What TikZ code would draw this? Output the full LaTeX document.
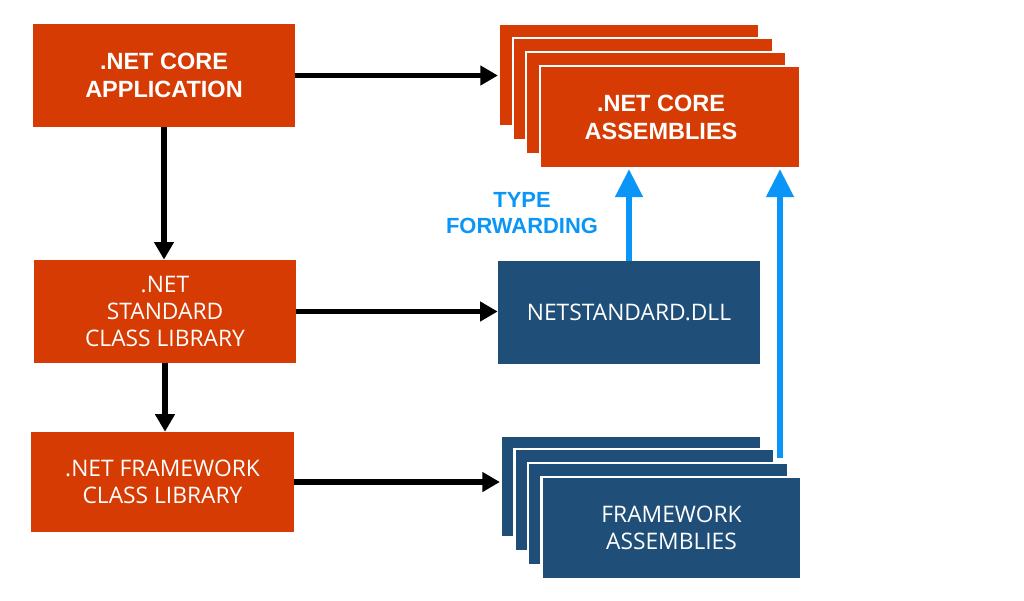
\documentclass[tikz,border=0pt]{standalone}
\usepackage{fontspec}
\setmainfont{Open Sans}
\newfontfamily\headfont{Liberation Sans}
\usetikzlibrary{arrows.meta}
\definecolor{netorange}{HTML}{D53B03}
\definecolor{netblue}{HTML}{1F4E79}
\definecolor{fwdblue}{HTML}{0A96F8}

\begin{document}
\begin{tikzpicture}[x=0.025cm, y=-0.025cm,
    box/.style={fill=#1, text=white, inner sep=0pt, minimum width=6.55cm, minimum height=2.58cm, align=center, font=\fontsize{16.2}{19}\selectfont},
    boldbox/.style={box=#1, font=\headfont\bfseries\fontsize{16.7}{20}\selectfont},
    layer/.style={draw=white, line width=1.5pt, minimum width=6.5cm, minimum height=2.55cm},
    link/.style={-{Triangle[width=13.5pt,length=12.5pt]}, line width=3.6pt},
    fwd/.style={-{Triangle[width=19pt,length=20pt]}, line width=4.2pt, draw=fwdblue}]
    \useasboundingbox (0,0) rectangle (1024,600);

    \node[boldbox=netorange] (app) at (164,75.5) {.NET CORE\\APPLICATION};
    \node[box=netorange] (std) at (165,311.5) {.NET\\STANDARD\\CLASS LIBRARY};
    \node[box=netorange, minimum height=2.5cm] (fw) at (162.5,482) {.NET FRAMEWORK\\CLASS LIBRARY};
    \node[box=netblue] (dll) at (629,312.5) {NETSTANDARD.DLL};

    % stacked assemblies
    \foreach \i in {0,1,2}
        \node[boldbox=netorange, layer] (core\i) at (629+13.7*\i, 75+14*\i) {};
    \node[boldbox=netorange, layer] (core) at (670,117) {.NET CORE\hspace*{0.45cm}\\ASSEMBLIES\hspace*{0.45cm}};
    \foreach \i in {0,1,2}
        \node[box=netblue, layer] (fwa\i) at (631+13.5*\i, 486.5+13.8*\i) {};
    \node[box=netblue, layer] (fwa) at (671.5,528) {FRAMEWORK\\ASSEMBLIES};

    \node[text=fwdblue, font=\headfont\bfseries\fontsize{15.6}{18}\selectfont, align=center] (typefwd) at (522,213) {TYPE\\FORWARDING};

    \draw[link] (app.east) -- (app.east -| core0.west);
    \draw[link] (app.south) -- (app.south |- std.north);
    \draw[link] (std.east) -- (std.east -| dll.west);
    \draw[link] (std.south) -- (std.south |- fw.north);
    \draw[link] (fw.east) -- (fw.east -| fwa0.west);

    \coordinate (fwtop) at (780,458);
    \draw[fwd] (dll.north) -- (dll.north |- core.south);
    \draw[fwd] (fwtop) -- (fwtop |- core.south);
\end{tikzpicture}
\end{document}
